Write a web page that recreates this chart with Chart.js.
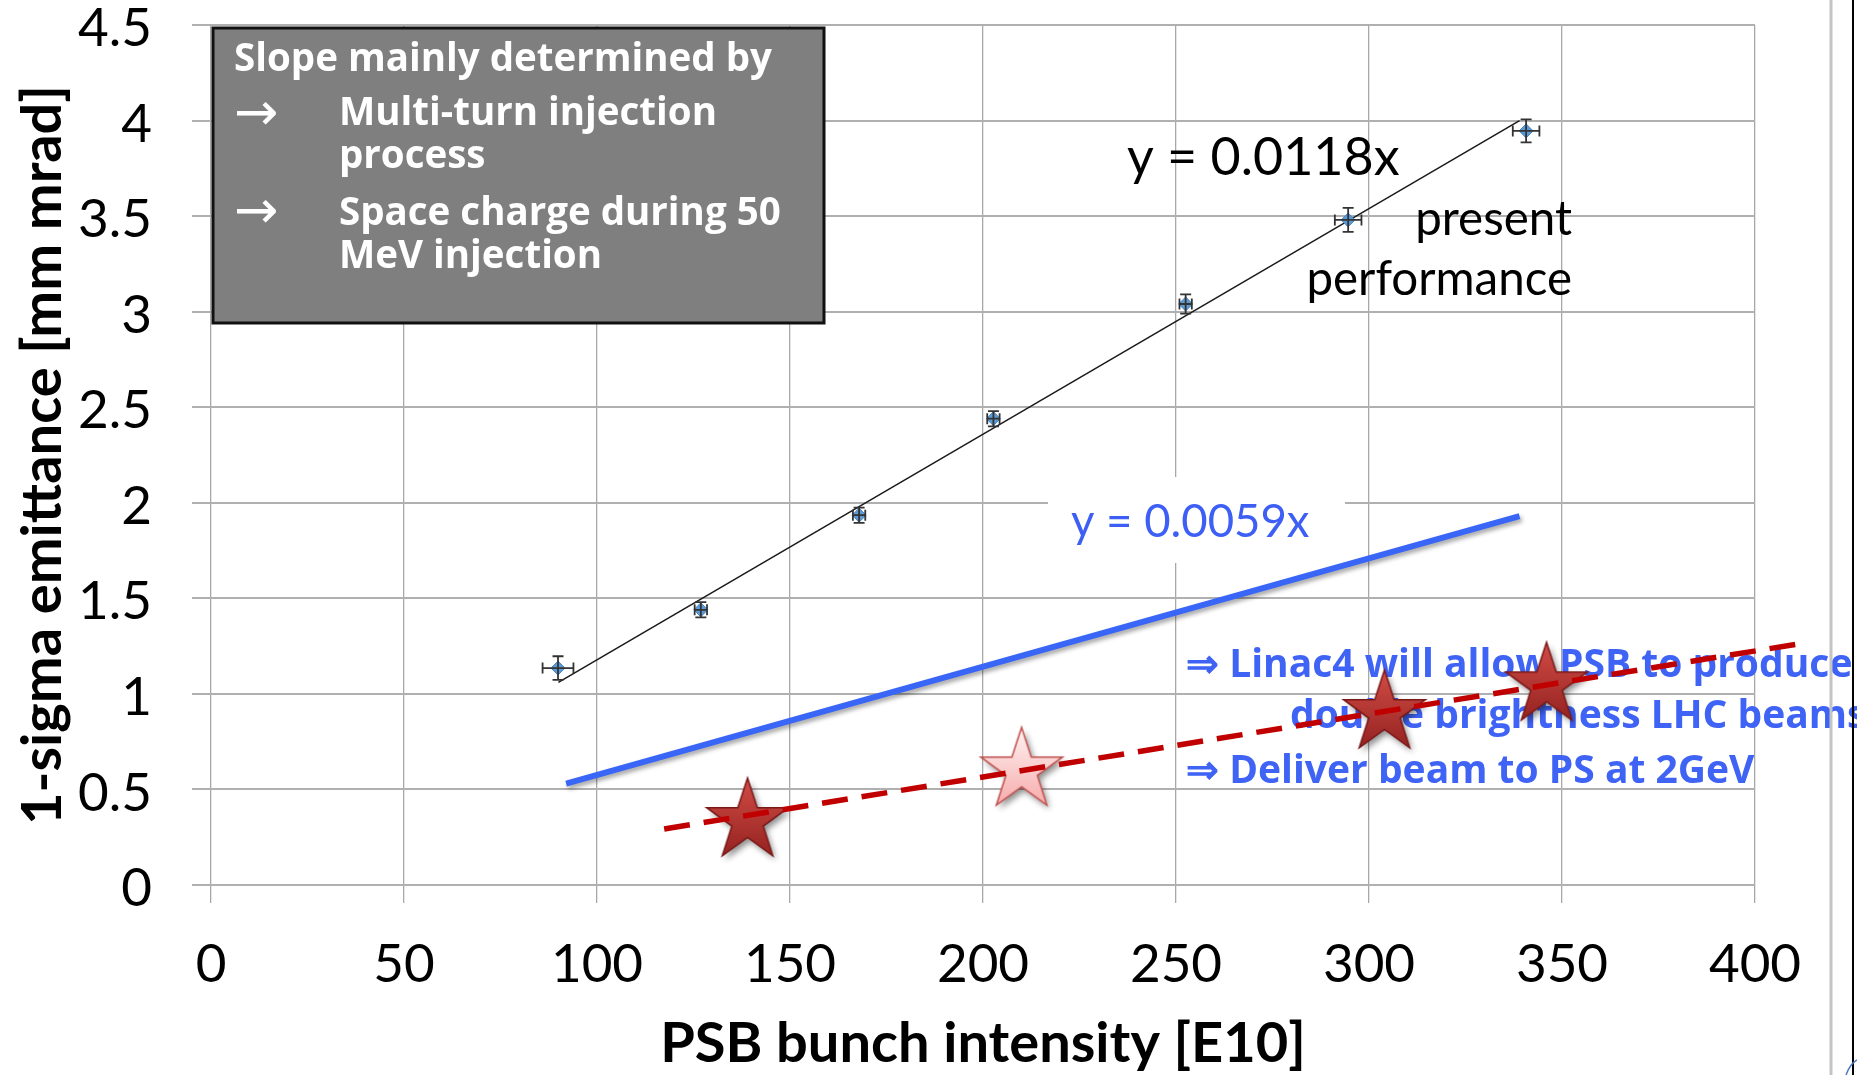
<!DOCTYPE html>
<html>
<head>
<meta charset="utf-8">
<script src="https://cdn.jsdelivr.net/npm/chart.js@4.4.1/dist/chart.umd.min.js"></script>
<style>
html,body{margin:0;padding:0;background:#fff;overflow:hidden}
#wrap{width:1857px;height:1075px;position:relative}
</style>
</head>
<body>
<div id="wrap"><canvas id="c" width="1857" height="1075"></canvas></div>
<script>
// ---- data ----
const xTicks = [0, 50, 100, 150, 200, 250, 300, 350, 400];
const yTicks = [0, 0.5, 1, 1.5, 2, 2.5, 3, 3.5, 4, 4.5];
// measured emittance (present performance)
const measX = [89.9, 126.9, 167.9, 202.7, 252.5, 294.6, 340.7];
const measY = [1.135, 1.44, 1.935, 2.44, 3.04, 3.48, 3.946];
const errX  = [4.0, 1.6, 1.6, 1.6, 1.6, 3.45, 3.45];
const errY  = [0.062, 0.04, 0.04, 0.04, 0.05, 0.063, 0.06];
// fit y = 0.0118x
const fitX = [90, 339];
const fitY = [1.06, 4.0];
// target y = 0.0059x
const goalX = [92, 339];
const goalY = [0.53, 1.93];
// Linac4 dashed line
const dashX = [117.4, 413.2];
const dashY = [0.293, 1.268];
// stars
const starX = [139, 210, 304, 346];
const starY = [0.335, 0.60, 0.90, 1.045];
const starKind = ['dark', 'light', 'dark', 'dark'];

function makeStar(kind) {
  const c = document.createElement('canvas');
  c.width = 112; c.height = 112;
  const g = c.getContext('2d');
  const cx = 56, cy = 56, R = 43, r = 16.5;
  g.beginPath();
  for (let i = 0; i < 10; i++) {
    const a = -Math.PI / 2 + i * Math.PI / 5;
    const rr = i % 2 === 0 ? R : r;
    const px = cx + rr * Math.cos(a), py = cy + rr * Math.sin(a);
    if (i === 0) g.moveTo(px, py); else g.lineTo(px, py);
  }
  g.closePath();
  const grad = g.createLinearGradient(0, cy - R, 0, cy + R);
  if (kind === 'dark') { grad.addColorStop(0, '#d24c46'); grad.addColorStop(1, '#8e1f1d'); }
  else { grad.addColorStop(0, '#fff4f4'); grad.addColorStop(1, '#f6a4a4'); }
  g.save();
  g.shadowColor = 'rgba(0,0,0,0.45)'; g.shadowBlur = 6; g.shadowOffsetX = 3; g.shadowOffsetY = 4;
  g.fillStyle = grad; g.fill();
  g.restore();
  g.lineWidth = 1.5;
  g.strokeStyle = kind === 'dark' ? '#7a1818' : '#c0504d';
  g.stroke();
  return c;
}
const starImgs = { dark: makeStar('dark'), light: makeStar('light') };

const pts = (xs, ys) => xs.map((x, i) => ({ x: x, y: ys[i] }));

const titleFam = "Lato, 'Liberation Sans', sans-serif";
const tickFam = "Lato, 'Liberation Sans', sans-serif";

const MEAS = 2, GOAL = 4;

const annot = {
  id: 'annot',
  beforeDatasetsDraw(chart) {
    const c = chart.ctx;
    c.save();
    // grey text box
    c.fillStyle = '#7f7f7f';
    c.fillRect(213, 28, 611, 295);
    c.lineWidth = 3; c.strokeStyle = '#111';
    c.strokeRect(213, 28, 611, 295);
    c.fillStyle = '#ffffff';
    c.textAlign = 'left'; c.textBaseline = 'alphabetic';
    c.font = "bold 38.5px 'Open Sans', Lato, sans-serif";
    c.fillText('Slope mainly determined by', 234, 71);
    c.fillText('Multi-turn injection', 339, 125);
    c.fillText('process', 339, 168);
    c.fillText('Space charge during 50', 339, 225);
    c.fillText('MeV injection', 339, 268);
    c.font = "53px 'DejaVu Sans', sans-serif";
    c.textBaseline = 'middle';
    c.fillText('\u2192', 234, 116);
    c.fillText('\u2192', 234, 214);
    c.textBaseline = 'alphabetic';

    // fit equation & label
    c.fillStyle = '#000';
    c.font = "52px Lato, sans-serif";
    c.fillText('y = 0.0118x', 1127, 175);
    c.font = "47.5px Lato, sans-serif";
    c.textAlign = 'right';
    c.fillText('present', 1572, 235);
    c.fillText('performance', 1572, 295);
    c.textAlign = 'left';

    // target equation with white background
    c.fillStyle = '#ffffff';
    c.fillRect(1048, 477, 297, 86);
    c.fillStyle = '#3d5ff5';
    c.font = "45.5px Lato, sans-serif";
    c.fillText('y = 0.0059x', 1071, 537);

    // blue bold statements
    c.fillStyle = '#3f63f5';
    c.font = "bold 39px 'Open Sans', Lato, sans-serif";
    c.fillText('\u21D2 Linac4 will allow PSB to produce', 1186, 677);
    c.fillText('double brightness LHC beams', 1290, 728);
    c.fillText('\u21D2 Deliver beam to PS at 2GeV', 1186, 783);
    c.restore();
  },
  beforeDatasetDraw(chart, args) {
    if (args.index === GOAL) {
      const c = chart.ctx;
      c.save();
      c.shadowColor = 'rgba(0,0,0,0.35)'; c.shadowBlur = 4; c.shadowOffsetX = 2; c.shadowOffsetY = 3;
    }
  },
  afterDatasetDraw(chart, args) {
    const c = chart.ctx;
    if (args.index === GOAL) { c.restore(); }
    if (args.index === MEAS) {
      const xs = chart.scales.x, ys = chart.scales.y;
      c.save();
      c.strokeStyle = '#333'; c.lineWidth = 1.8;
      const cap = 5.5;
      for (let i = 0; i < measX.length; i++) {
        const px = xs.getPixelForValue(measX[i]), py = ys.getPixelForValue(measY[i]);
        const x0 = xs.getPixelForValue(measX[i] - errX[i]), x1 = xs.getPixelForValue(measX[i] + errX[i]);
        const y0 = ys.getPixelForValue(measY[i] - errY[i]), y1 = ys.getPixelForValue(measY[i] + errY[i]);
        c.beginPath();
        c.moveTo(x0, py); c.lineTo(x1, py);
        c.moveTo(x0, py - cap); c.lineTo(x0, py + cap);
        c.moveTo(x1, py - cap); c.lineTo(x1, py + cap);
        c.moveTo(px, y0); c.lineTo(px, y1);
        c.moveTo(px - cap, y0); c.lineTo(px + cap, y0);
        c.moveTo(px - cap, y1); c.lineTo(px + cap, y1);
        c.stroke();
      }
      c.restore();
    }
  },
  afterDraw(chart) {
    const c = chart.ctx;
    c.save();
    c.strokeStyle = '#c4c4c4'; c.lineWidth = 3;
    c.beginPath(); c.moveTo(1831, 0); c.lineTo(1831, 1075); c.stroke();
    c.strokeStyle = '#000'; c.lineWidth = 2;
    c.beginPath(); c.moveTo(1853, 0); c.lineTo(1853, 1075); c.stroke();
    c.strokeStyle = '#4a78c0'; c.lineWidth = 1.5;
    c.beginPath(); c.moveTo(1846, 1075); c.quadraticCurveTo(1850, 1064, 1857, 1060); c.stroke();
    c.restore();
  }
};

new Chart(document.getElementById('c').getContext('2d'), {
  type: 'scatter',
  data: {
    datasets: [
      { label: 'Linac4', data: pts(dashX, dashY), showLine: true, borderColor: '#c00000', borderWidth: 5.5,
        borderDash: [26, 14], pointRadius: 0, clip: false, order: 0 },
      { label: 'stars', data: pts(starX, starY), showLine: false, pointStyle: starKind.map(k => starImgs[k]),
        pointRadius: 5, clip: false, order: 1 },
      { label: 'measured', data: pts(measX, measY), showLine: false, pointStyle: 'rectRot', pointRadius: 7,
        backgroundColor: '#5b9bd5', borderColor: '#4a82c0', borderWidth: 1, order: 2 },
      { label: 'fit', data: pts(fitX, fitY), showLine: true, borderColor: '#1a1a1a', borderWidth: 1.5,
        pointRadius: 0, order: 3 },
      { label: 'goal', data: pts(goalX, goalY), showLine: true, borderColor: '#3a66f7', borderWidth: 6,
        pointRadius: 0, order: 4 }
    ]
  },
  options: {
    responsive: false,
    animation: false,
    events: [],
    layout: { padding: { top: 25, right: 102, left: 0, bottom: 0 } },
    plugins: { legend: { display: false }, tooltip: { enabled: false } },
    scales: {
      x: {
        type: 'linear', min: 0, max: 400,
        afterBuildTicks: s => { s.ticks = xTicks.map(v => ({ value: v })); },
        afterFit: s => { s.height = 190; s.paddingLeft = 0; s.paddingRight = 0; },
        grid: { color: '#a8a8a8', lineWidth: 1.3, tickLength: 18, tickColor: '#a8a8a8', tickWidth: 1.3 },
        border: { display: false },
        ticks: { autoSkip: false, maxRotation: 0, padding: 35, color: '#000',
          font: { family: tickFam, size: 53, lineHeight: 1 }, callback: v => String(v) },
        title: { display: true, text: 'PSB bunch intensity [E10]', color: '#000',
          font: { family: titleFam, size: 56, weight: 'bold', lineHeight: 1 }, padding: { top: 0, bottom: 3 } }
      },
      y: {
        type: 'linear', min: 0, max: 4.5,
        afterBuildTicks: s => { s.ticks = yTicks.map(v => ({ value: v })); },
        afterFit: s => { s.width = 211; s.paddingTop = 0; s.paddingBottom = 0; },
        grid: { color: '#b0b0b0', lineWidth: 2, tickLength: 19, tickColor: '#b0b0b0', tickWidth: 2 },
        border: { display: false },
        ticks: { autoSkip: false, padding: 40, labelOffset: 4, color: '#000',
          font: { family: tickFam, size: 53, lineHeight: 1 }, callback: v => String(v) },
        title: { display: true, text: '1-sigma emittance [mm mrad]', color: '#000',
          font: { family: titleFam, size: 56, weight: 'bold', lineHeight: 1 }, padding: { top: 15, bottom: 0 } }
      }
    }
  },
  plugins: [annot]
});
</script>
</body>
</html>
